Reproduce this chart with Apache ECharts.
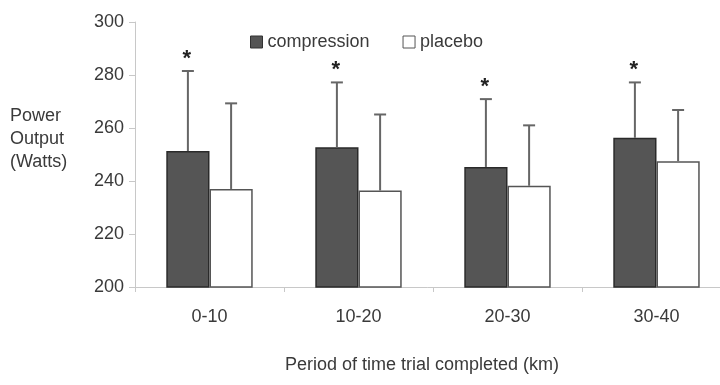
<!DOCTYPE html>
<html>
<head>
<meta charset="utf-8">
<script src="https://cdn.jsdelivr.net/npm/echarts@6/dist/echarts.min.js"></script>
<style>
  html, body { margin: 0; padding: 0; background: #ffffff; }
  #chart { width: 720px; height: 385px; }
</style>
</head>
<body>
<div id="chart"></div>
<script>
const categories = ['0-10', '10-20', '20-30', '30-40'];
const compression = [251.3, 252.7, 245.3, 256.3];
const compressionSD = [30.2, 24.5, 25.6, 20.9];
const placebo = [237.0, 236.4, 238.2, 247.5];
const placeboSD = [32.3, 28.7, 22.8, 19.3];
const significant = [true, true, true, true];

const FONT = 'Liberation Sans, Arial, sans-serif';
const TEXT = '#3a3a3a';
const BAR_FRAC = 0.29; // bar width as share of category

const chart = echarts.init(document.getElementById('chart'));

// error bar (upper half only) drawn above the centre of each bar
function errorBars(name, means, sds, side, stars) {
  return {
    name: name + '-err',
    type: 'custom',
    z: 5,
    silent: true,
    encode: { x: 0, y: 1 },
    data: categories.map((c, i) => [i, means[i], means[i] + sds[i], stars && stars[i] ? 1 : 0]),
    renderItem(params, api) {
      const i = api.value(0);
      const base = api.coord([i, api.value(1)]);
      const top = api.coord([i, api.value(2)]);
      const bw = api.size([1, 0])[0] * BAR_FRAC;
      const cx = base[0] + side * bw / 2;
      const style = { stroke: '#666666', lineWidth: 2 };
      const children = [
        { type: 'line', shape: { x1: cx, y1: base[1], x2: cx, y2: top[1] }, style },
        { type: 'line', shape: { x1: cx - 6, y1: top[1], x2: cx + 6, y2: top[1] }, style }
      ];
      if (api.value(3)) {
        children.push({
          type: 'text',
          style: {
            text: '*', x: cx - 1, y: top[1] - 23,
            align: 'center', verticalAlign: 'top',
            font: 'bold 22px ' + FONT, fill: '#222222'
          }
        });
      }
      return { type: 'group', children };
    }
  };
}

const option = {
  backgroundColor: '#ffffff',
  animation: false,
  // the plot runs a little past the right edge of the picture
  grid: { left: 135, top: 22, width: 596, height: 265, outerBoundsMode: 'none' },
  legend: {
    left: 245,
    top: 28,
    itemWidth: 12,
    itemHeight: 12,
    itemGap: 33,
    icon: 'rect',
    textStyle: { fontFamily: FONT, fontSize: 18, color: TEXT },
    data: [
      { name: 'compression', itemStyle: { color: '#555555', borderColor: '#333333', borderWidth: 1 } },
      { name: 'placebo', itemStyle: { color: '#ffffff', borderColor: '#555555', borderWidth: 1 } }
    ]
  },
  xAxis: {
    type: 'category',
    data: categories,
    axisLine: { lineStyle: { color: '#c8c8c8', width: 1 } },
    axisTick: { show: true, length: 5, lineStyle: { color: '#c8c8c8' } },
    axisLabel: { fontFamily: FONT, fontSize: 18, color: TEXT, margin: 21 }
  },
  yAxis: {
    type: 'value',
    min: 200,
    max: 300,
    interval: 20,
    splitLine: { show: false },
    axisLine: { show: true, lineStyle: { color: '#c8c8c8', width: 1 } },
    axisTick: { show: true, length: 6, lineStyle: { color: '#c8c8c8' } },
    axisLabel: { fontFamily: FONT, fontSize: 18, color: TEXT, margin: 11 }
  },
  graphic: [
    {
      type: 'text', left: 10, top: 105,
      style: { text: 'Power\nOutput\n(Watts)', font: '18px ' + FONT, fill: TEXT, lineHeight: 23 }
    },
    {
      type: 'text', left: 285, top: 356,
      style: { text: 'Period of time trial completed (km)', font: '18px ' + FONT, fill: TEXT }
    }
  ],
  series: [
    {
      name: 'compression',
      type: 'bar',
      barWidth: (BAR_FRAC * 100) + '%',
      barGap: '0%',
      data: compression,
      itemStyle: { color: '#555555', borderColor: '#2a2a2a', borderWidth: 1.5 }
    },
    {
      name: 'placebo',
      type: 'bar',
      barWidth: (BAR_FRAC * 100) + '%',
      barGap: '0%',
      data: placebo,
      itemStyle: { color: '#ffffff', borderColor: '#555555', borderWidth: 1.5 }
    },
    errorBars('compression', compression, compressionSD, -1, significant),
    errorBars('placebo', placebo, placeboSD, 1, null)
  ]
};

chart.setOption(option);
</script>
</body>
</html>
